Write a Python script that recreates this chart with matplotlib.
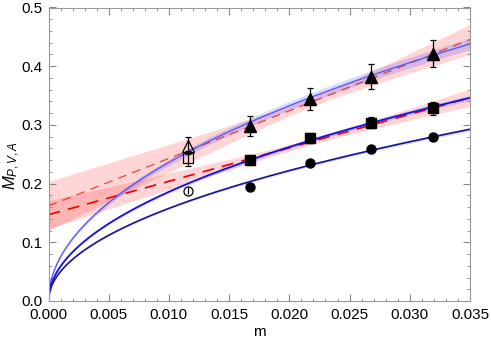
import numpy as np
import matplotlib
matplotlib.use('Agg')
import matplotlib.pyplot as plt
from matplotlib.ticker import MultipleLocator, FormatStrFormatter

plt.rcParams['font.family'] = ['Liberation Sans', 'DejaVu Sans']
plt.rcParams['mathtext.fontset'] = 'custom'
plt.rcParams['mathtext.rm'] = 'Liberation Sans'
plt.rcParams['mathtext.it'] = 'Liberation Sans:italic'

# ---------------- data ----------------
m_open = [0.0116]
m_full = [0.0167, 0.0217, 0.0268, 0.0319]

P_open = [0.188]
P_open_err = [0.006]
P_full = [0.194, 0.2346, 0.2584, 0.279]
P_err = [0.003, 0.003, 0.003, 0.003]

V_open = [0.243]
V_open_err = [0.013]
V_full = [0.240, 0.278, 0.304, 0.328]
V_err = [0.008, 0.009, 0.0095, 0.011]

A_open = [0.2646]
A_open_err = [0.015]
A_full = [0.298, 0.344, 0.382, 0.421]
A_err = [0.0167, 0.019, 0.021, 0.023]

# chiral fits  M = a*sqrt(m) + b*m, with relative band width
fit_P = [1.595, -0.167, 0.010]
fit_V = [1.872, -0.118, 0.012]
fit_A = [2.387, -0.246, 0.022]

# linear fits  M = c0 + c1*m ; band half width sqrt(s0^2 + (s1*(m-m0))^2)
lin_V = [0.147, 5.7, 0.005, 1.07, 0.022]
lin_A = [0.162, 8.1, 0.008, 1.86, 0.022]

# ---------------- plot ----------------
fig = plt.figure(figsize=(4.91, 3.44), dpi=100)
ax = fig.add_axes([48.5/491, 1-301/344, (470-48.5)/491, (301-7.5)/344])

mm = np.linspace(0, 0.035, 400)

# pink bands
for lin in [lin_A, lin_V]:
    c0, c1, s0, s1, m0 = lin
    y = c0 + c1*mm
    hw = np.sqrt(s0**2 + (s1*(mm-m0))**2)
    ax.fill_between(mm, y-hw, y+hw, color='#ff3030', alpha=0.2, lw=0)

# blue bands
for fit in [fit_A, fit_V, fit_P]:
    a, b, r = fit
    y = a*np.sqrt(mm) + b*mm
    ax.fill_between(mm, y*(1-r), y*(1+r), color='#3333ff', alpha=0.18, lw=0)

# red dashed linear fits
for lin, lw, alpha_line in [(lin_A, 0.9, 0.7), (lin_V, 1.2, 1.0)]:
    c0, c1, s0, s1, m0 = lin
    ax.plot(mm, c0 + c1*mm, color='#ee0000', lw=lw, alpha=alpha_line,
            dashes=(7, 5))

# blue chiral fits
for fit, col, lw in [(fit_A, '#5b5bf5', 1.0), (fit_V, '#1010ee', 1.3), (fit_P, '#15158f', 1.2)]:
    a, b, r = fit
    ax.plot(mm, a*np.sqrt(mm) + b*mm, color=col, lw=lw)

# data points
ekw = dict(ecolor='black', elinewidth=0.9, capthick=0.9, ls='none')
ax.errorbar(m_full, P_full, yerr=P_err, fmt='o', ms=6.5, mfc='black', mec='black', capsize=0, **ekw)
ax.errorbar(m_full, V_full, yerr=V_err, fmt='s', ms=6.5, mfc='black', mec='black', capsize=2.2, **ekw)
ax.errorbar(m_full, A_full, yerr=A_err, fmt='^', ms=8.5, mfc='black', mec='black', capsize=2.2, **ekw)
ax.errorbar(m_open, P_open, yerr=P_open_err, fmt='o', ms=6.5, mfc='none', mec='black', mew=0.9, capsize=0, **ekw)
ax.errorbar(m_open, V_open, yerr=V_open_err, fmt='s', ms=6.5, mfc='none', mec='black', mew=0.9, capsize=2.2, **ekw)
ax.errorbar(m_open, A_open, yerr=A_open_err, fmt='^', ms=8.5, mfc='none', mec='black', mew=0.9, capsize=2.2, **ekw)

ax.set_xlim(0, 0.035)
ax.set_ylim(0, 0.5)
ax.xaxis.set_major_locator(MultipleLocator(0.005))
ax.xaxis.set_minor_locator(MultipleLocator(0.001))
ax.yaxis.set_major_locator(MultipleLocator(0.1))
ax.yaxis.set_minor_locator(MultipleLocator(0.02))
ax.xaxis.set_major_formatter(FormatStrFormatter('%.3f'))
ax.yaxis.set_major_formatter(FormatStrFormatter('%.1f'))
ax.tick_params(which='both', direction='in', top=True, right=True, color='#888888',
               labelsize=11)
ax.tick_params(axis='x', pad=5)
ax.tick_params(axis='y', pad=4)
ax.tick_params(which='major', length=5, width=0.8)
ax.tick_params(which='minor', length=2.5, width=0.6)
for s in ax.spines.values():
    s.set_color('#999999')
    s.set_linewidth(0.8)

ax.set_xlabel('m', fontsize=11, labelpad=2)
ax.set_ylabel(r'$M_{P,V,A}$', fontsize=12)
ax.yaxis.set_label_coords(-0.062, 0.46)

fig.savefig('out.png', dpi=100)
